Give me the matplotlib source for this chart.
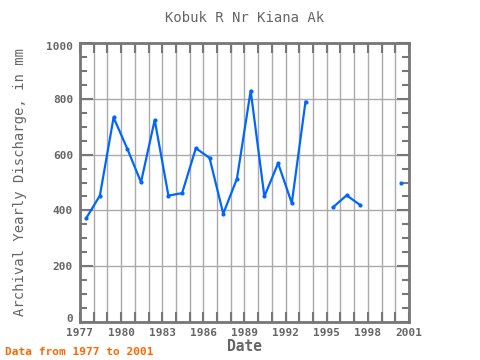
import matplotlib
matplotlib.use("Agg")
import matplotlib.pyplot as plt
import matplotlib.transforms as mtransforms
import numpy as np
from matplotlib.ticker import MultipleLocator

years = [1977, 1978, 1979, 1980, 1981, 1982, 1983, 1984, 1985, 1986, 1987, 1988,
         1989, 1990, 1991, 1992, 1993, 1994, 1995, 1996, 1997, 1998, 1999, 2000]
discharge = [372, 453, 733, 621, 501, 724, 453, 462, 623, 588, 388, 514,
             829, 450, 569, 426, 790, np.nan, 411, 454, 419, np.nan, np.nan, 498]
xtick_labels = ["1977", "1980", "1983", "1986", "1989", "1992", "1995", "1998", "2001"]
ytick_values = [0, 200, 400, 600, 800, 1000]

font = "DejaVu Sans Mono"
gray = "#666666"

fig = plt.figure(figsize=(4.8, 3.6), dpi=100)
ax = fig.add_axes([80/480, 1-322/360, (409-80)/480, (322-43)/360])

x = np.array(years) + 0.45
ax.plot(x, discharge, color="#0066ff", lw=1.6, marker="o", ms=2.0, zorder=3)

ax.set_xlim(1977, 2001)
ax.set_ylim(0, 1000)
ax.set_xticks([int(t) for t in xtick_labels])
ax.set_xticklabels(xtick_labels)
ax.xaxis.set_minor_locator(MultipleLocator(1))
ax.set_yticks(ytick_values)
ax.set_yticklabels([str(v) for v in ytick_values])
ax.yaxis.set_minor_locator(MultipleLocator(50))

ax.grid(True, which="major", axis="y", color="#aaaaaa", lw=1)
ax.grid(True, which="both", axis="x", color="#aaaaaa", lw=1)
ax.set_axisbelow(True)

for s in ax.spines.values():
    s.set_color("#777777")
    s.set_linewidth(2)

ax.tick_params(which="both", direction="in", top=True, right=True, color="#777777",
               labelcolor=gray, labelsize=8, width=1.5)
ax.tick_params(axis="y", which="major", length=9, pad=5)
ax.tick_params(axis="y", which="minor", length=5)
ax.tick_params(axis="x", which="both", length=7, pad=4)
ylbls = ax.get_yticklabels()
up = mtransforms.ScaledTranslation(0, 4/100, fig.dpi_scale_trans)
down = mtransforms.ScaledTranslation(0, -3/100, fig.dpi_scale_trans)
ylbls[0].set_transform(ylbls[0].get_transform() + up)
ylbls[-1].set_transform(ylbls[-1].get_transform() + down)
for lbl in ax.get_xticklabels() + ylbls:
    lbl.set_family(font)
    lbl.set_fontweight("bold")

fig.text(0.5 * (80 + 409) / 480, 1 - 18/360, "Kobuk R Nr Kiana Ak", ha="center", va="center",
         family=font, fontsize=10, color=gray)
ax.set_xlabel("Date", family=font, fontsize=10.5, color=gray, fontweight="bold", labelpad=1)
ax.set_ylabel("Archival Yearly Discharge, in mm", family=font, fontsize=10, color=gray, labelpad=14)
fig.text(5/480, 1 - 352/360, "Data from 1977 to 2001", ha="left", va="center",
         family=font, fontsize=8, color="#ff6600", fontweight="bold")

fig.savefig("out.png", dpi=100)
